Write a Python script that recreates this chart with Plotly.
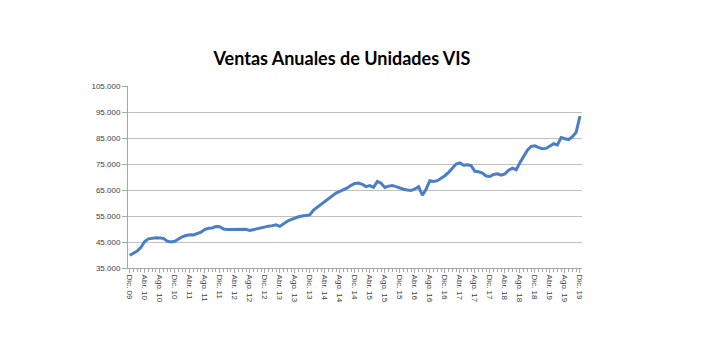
import plotly.graph_objects as go

months = ["Dic", "Ene", "Feb", "Mar", "Abr", "May", "Jun", "Jul", "Ago", "Sep", "Oct", "Nov"]
start_year = 2009

ventas = [
    39900, 40600, 41500, 43000, 45200, 46200, 46500, 46600, 46500, 46400, 45300, 45000,
    45300, 46300, 47000, 47500, 47800, 47700, 48300, 48800, 49800, 50300, 50400, 51000,
    50900, 50000, 49800, 49800, 49900, 49800, 50000, 49900, 49400, 49800, 50200, 50300,
    50800, 51100, 51300, 51600, 51000, 52000, 53000, 53600, 54300, 54700, 55000, 55200,
    55400, 57300, 58400, 59400, 60600, 61400, 62700, 63800, 64500, 65100, 65800, 66800,
    67500, 67700, 67200, 66300, 66700, 66000, 68300, 67600, 66000, 66500, 66700, 66300,
    65700, 65300, 65000, 64800, 65400, 66300, 63000, 65300, 68600, 68300, 68600, 69500,
    70500, 71800, 73500, 75000, 75400, 74500, 74700, 74400, 72200, 72000, 71500, 70400,
    70200, 71000, 71200, 70700, 71200, 72600, 73400, 72800, 75500, 78000, 80300, 81800,
    82000, 81300, 80900, 81000, 82000, 82800, 82300, 85200, 84700, 84400, 85500, 87200,
    93400,
]

# month labels: Dic. 09, Ene. 10, ...
labels = []
for i in range(len(ventas)):
    m = i % 12
    yr = start_year + (i + 11) // 12 if m != 0 else start_year + i // 12
    labels.append(f"{months[m]}. {yr % 100:02d}")

x_idx = list(range(len(ventas)))
tick_idx = x_idx[::4]
tick_text = [labels[i] for i in tick_idx]

y_ticks = list(range(35000, 105001, 10000))
y_text = [f"{v // 1000}.000" for v in y_ticks]

W, H = 715, 355
ml, mr, mt, mb = 120, 141, 78, 95

fig = go.Figure()
fig.add_trace(go.Scatter(
    x=x_idx, y=ventas, mode="lines",
    line=dict(color="#4A7EC6", width=3),
    hoverinfo="skip", showlegend=False,
))

fig.update_layout(
    width=W, height=H,
    margin=dict(l=ml, r=mr, t=mt, b=mb, pad=0),
    paper_bgcolor="white", plot_bgcolor="white",
    title=dict(
        text="<b>Ventas Anuales de Unidades VIS</b>",
        font=dict(family="Lato", size=18, color="#000000"),
        x=334 / W, xanchor="center", xref="container",
        y=1 - 51 / H, yanchor="middle", yref="container",
    ),
    font=dict(family="Liberation Sans", color="#404040"),
)

fig.update_xaxes(
    range=[-0.45, 120.55],
    tickmode="array", tickvals=tick_idx, ticktext=tick_text,
    tickangle=90, tickfont=dict(size=8, color="#404040"),
    ticks="outside", ticklen=4, tickcolor="#A6A6A6",
    minor=dict(dtick=1, tick0=0, ticks="outside", ticklen=3, tickcolor="#A6A6A6", showgrid=False),
    showline=True, linecolor="#A6A6A6", linewidth=1,
    showgrid=False, zeroline=False,
)
fig.update_yaxes(
    range=[35000, 105000],
    tickmode="array", tickvals=y_ticks, ticktext=y_text,
    tickfont=dict(size=8, color="#404040"),
    ticks="outside", ticklen=5, tickcolor="#A6A6A6",
    showline=True, linecolor="#A6A6A6", linewidth=1,
    showgrid=True, gridcolor="#BFBFBF", gridwidth=1,
    zeroline=False,
)

fig.write_html("out.html")
